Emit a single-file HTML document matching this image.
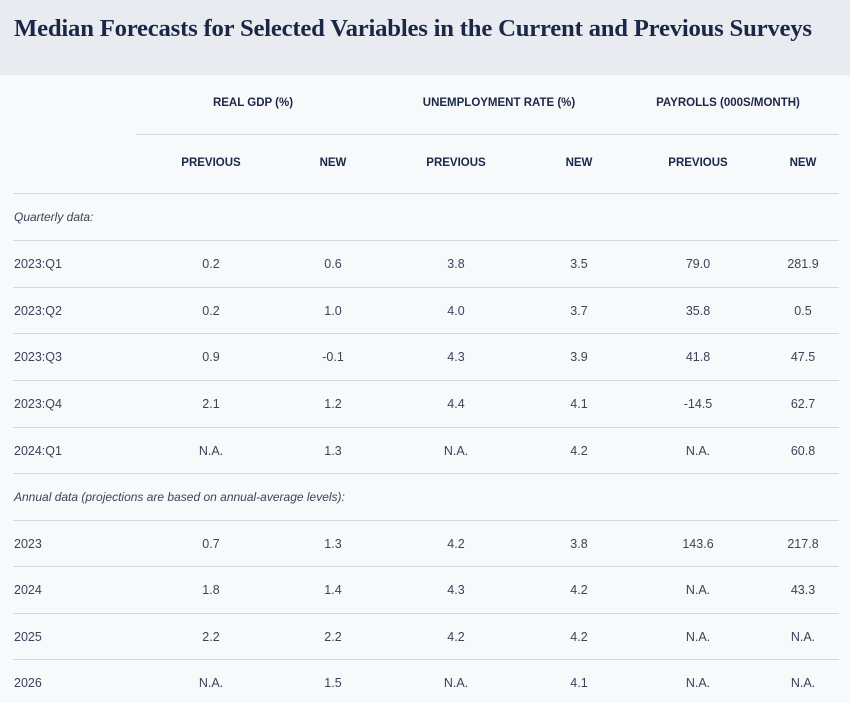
<!DOCTYPE html>
<html><head><meta charset="utf-8"><style>
body{margin:0;width:850px;height:703px;background:#f7f9fb;position:relative;overflow:hidden;font-family:"Liberation Sans",sans-serif;color:#3b4358}
.hd{position:absolute;left:0;top:0;width:850px;height:75px;background:#e8ebf0}
.t{position:absolute;left:14px;top:15px;font-family:"Liberation Serif",serif;font-weight:bold;font-size:24.7px;color:#1b2747;white-space:nowrap;letter-spacing:-0.2px}
.l{position:absolute;height:1px;background:#cfd8e3}
.c{position:absolute;transform:translate(-50%,-50%);font-size:12.5px;white-space:nowrap}
.b{font-weight:bold;font-size:11.5px;color:#1b2747}
.r{position:absolute;left:14px;transform:translateY(-50%);font-size:12.5px;white-space:nowrap}
.i{font-style:italic;font-size:12px}
</style></head><body>
<div class="hd"></div>
<div class="t">Median Forecasts for Selected Variables in the Current and Previous Surveys</div>
<div class="c b" style="left:253px;top:103px">REAL GDP (%)</div>
<div class="c b" style="left:499px;top:103px">UNEMPLOYMENT RATE (%)</div>
<div class="c b" style="left:728px;top:103px">PAYROLLS (000S/MONTH)</div>
<div class="l" style="left:136px;width:703px;top:134px"></div>
<div class="c b" style="left:211px;top:163px">PREVIOUS</div>
<div class="c b" style="left:333px;top:163px">NEW</div>
<div class="c b" style="left:456px;top:163px">PREVIOUS</div>
<div class="c b" style="left:579px;top:163px">NEW</div>
<div class="c b" style="left:698px;top:163px">PREVIOUS</div>
<div class="c b" style="left:803px;top:163px">NEW</div>
<div id="g"></div>
<script>
var ys=[193,240,287,333,380,427,473,520,566,613,659];
var rows=[["Quarterly data:"],["2023:Q1","0.2","0.6","3.8","3.5","79.0","281.9"],["2023:Q2","0.2","1.0","4.0","3.7","35.8","0.5"],["2023:Q3","0.9","-0.1","4.3","3.9","41.8","47.5"],["2023:Q4","2.1","1.2","4.4","4.1","-14.5","62.7"],["2024:Q1","N.A.","1.3","N.A.","4.2","N.A.","60.8"],["Annual data (projections are based on annual-average levels):"],["2023","0.7","1.3","4.2","3.8","143.6","217.8"],["2024","1.8","1.4","4.3","4.2","N.A.","43.3"],["2025","2.2","2.2","4.2","4.2","N.A.","N.A."],["2026","N.A.","1.5","N.A.","4.1","N.A.","N.A."]];
var xs=[211,333,456,579,698,803],h="";
ys.forEach(function(y,k){h+='<div class="l" style="left:13px;width:826px;top:'+y+'px"></div>';
var r=rows[k],cy=y+23.5;
if(r.length==1)h+='<div class="r i" style="top:'+cy+'px">'+r[0]+'</div>';
else{h+='<div class="r" style="top:'+cy+'px">'+r[0]+'</div>';for(var j=1;j<7;j++)h+='<div class="c" style="left:'+xs[j-1]+'px;top:'+cy+'px">'+r[j]+'</div>';}});
document.getElementById("g").innerHTML=h;
</script>
</body></html>
